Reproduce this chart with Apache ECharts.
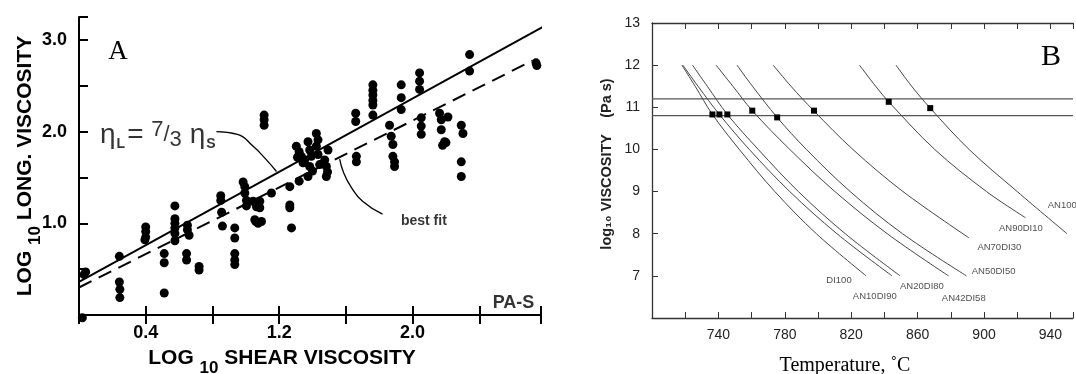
<!DOCTYPE html>
<html><head><meta charset="utf-8">
<script src="https://cdn.jsdelivr.net/npm/echarts@6/dist/echarts.min.js"></script>
<style>html,body{margin:0;padding:0;background:#fff}#c{width:1076px;height:374px}</style>
</head><body><div id="c"></div>
<script>
// ---------- Panel A data ----------
const aShear = [0.03,0.04,0.02, 0.242,0.242,0.245,0.245, 0.40,0.40,0.40,0.395, 0.511,0.511,0.511,
  0.575,0.575,0.575,0.575,0.575,0.575, 0.65,0.65,0.66,0.645,0.645, 0.72,0.72,
  0.85,0.85,0.855,0.86, 0.934,0.934,0.934,0.934,0.934,
  0.984,0.994,0.994,1.004,1.004, 1.044,1.064,1.084,1.084,1.054,1.074,1.094,1.06,
  1.11,1.11,1.11, 1.154, 1.264,1.264,1.264,1.274, 1.32,
  1.303,1.32,1.333,1.353,1.373,1.383,1.393,1.423,1.433,1.423,1.433,1.443,1.383,1.373,1.40,1.343,1.31,
  1.473,1.483,1.483,1.493,1.49, 1.659,1.659,1.663,1.663,
  1.762,1.762,1.762,1.762,1.762,1.762, 1.862,1.872,1.882,1.882,1.892,1.892,
  1.932,1.932,1.932, 2.042,2.042,2.042,2.052,2.052,2.052,
  2.162,2.172,2.172,2.192,2.212,2.18,2.2, 2.292,2.302,2.292,2.292, 2.342,2.342, 2.74,2.745];
const aLong = [0.44,0.47,-0.03, 0.64,0.36,0.28,0.19, 0.96,0.91,0.85,0.82, 0.67,0.57,0.24,
  1.19,1.05,1.0,0.95,0.89,0.81, 0.98,0.93,0.87,0.67,0.60, 0.53,0.49,
  1.30,1.25,1.12,0.97, 0.95,0.84,0.67,0.60,0.55,
  1.45,1.40,1.33,1.25,1.19, 1.24,1.18,1.24,1.17,1.04,1.0,1.02,1.02,
  2.18,2.13,2.07, 1.33, 1.40,1.20,1.17,0.95, 1.46,
  1.84,1.78,1.73,1.69,1.89,1.80,1.73,1.98,1.91,1.84,1.75,1.64,1.62,1.51,1.57,1.66,1.72,
  1.69,1.62,1.51,1.80,1.56, 2.20,2.11,1.73,1.67,
  2.51,2.45,2.40,2.34,2.29,2.18, 2.07,1.95,1.86,1.73,1.67,1.62,
  2.51,2.37,2.24, 2.64,2.55,2.46,2.15,2.06,1.97,
  2.20,2.13,2.02,1.89,2.16,1.85,1.88, 2.07,1.98,1.67,1.51, 2.84,2.66, 2.75,2.72];
const lineShear = [0, 2.8];
const ratioLineLong = [0.36, 3.16];      // eta_L = 7/3 eta_S
const bestFitShear = [0, 2.72];
const bestFitLong = [0.30, 2.775];
const etaArrowShear = [0.824, 0.95, 1.044, 1.12, 1.184];
const etaArrowLong = [2.0, 1.97, 1.84, 1.70, 1.565];
const fitArrowShear = [1.563, 1.585, 1.63, 1.70, 1.82];
const fitArrowLong = [1.70, 1.56, 1.40, 1.24, 1.10];
const aXTickLabels = [0.4, 1.2, 2.0];
const aYTickLabels = [1.0, 2.0, 3.0];

// ---------- Panel B data ----------
const curveNames = ['DI100','AN10DI90','AN20DI80','AN42DI58','AN50DI50','AN70DI30','AN90DI10','AN100'];
const curveT = [
  [718, 726, 736.4, 752.6, 774, 799, 829],
  [718.6, 727.7, 740.6, 758.6, 783, 811.4, 844.6],
  [724.4, 733.3, 745.4, 764, 788.2, 816.4, 849.5],
  [738.6, 748.7, 760.4, 783, 810.2, 841.7, 878.6],
  [751.2, 760.5, 775.4, 793, 819.4, 850.9, 889.4],
  [773, 783.7, 797.4, 821, 851.2, 891],
  [825, 834.7, 842.6, 870.3, 901.5, 925],
  [847, 856.4, 867.6, 891, 920, 950]
];
const curveV = [
  [12, 11.5, 10.83, 10, 9, 8, 7],
  [12, 11.5, 10.83, 10, 9, 8, 7],
  [12, 11.5, 10.83, 10, 9, 8, 7],
  [12, 11.5, 10.92, 10, 9, 8, 7],
  [12, 11.5, 10.76, 10, 9, 8, 7],
  [12, 11.5, 10.92, 10, 9, 7.9],
  [12, 11.5, 11.13, 10, 9, 8.38],
  [12, 11.5, 10.98, 10, 9, 8.0]
];
const squareT = [736.4, 740.6, 745.4, 760.4, 775.4, 797.6, 842.6, 867.6];
const squareV = [10.83, 10.83, 10.83, 10.92, 10.76, 10.92, 11.13, 10.98];
const refLevels = [11.2, 10.8];
const labelT = [805, 821, 849.4, 874.6, 892.6, 896, 909, 938.4];
const labelV = [6.9, 6.52, 6.75, 6.46, 7.1, 7.67, 8.12, 8.68];
const bXTickLabels = [740, 780, 820, 860, 900, 940];
const bYTickLabels = [7, 8, 9, 10, 11, 12, 13];
const bTempMin = 700, bTempMax = 953.6;   // visible temperature range (panel cropped at right)

// ---------- build ----------
const zip = (a, b) => a.map((v, i) => [v, b[i]]);
const near = (arr, v) => arr.some(t => Math.abs(t - v) < 1e-6);
const FONT = 'Liberation Sans';

const series = [];
// Panel A
series.push({type:'scatter', xAxisIndex:0, yAxisIndex:0, data: zip(aShear, aLong), symbolSize: 9,
  itemStyle:{color:'#000', opacity:1}, clip:false, z:3});
series.push({type:'line', xAxisIndex:0, yAxisIndex:0, data: zip(lineShear, ratioLineLong), symbol:'none',
  lineStyle:{color:'#000', width:2}});
series.push({type:'line', xAxisIndex:0, yAxisIndex:0, data: zip(bestFitShear, bestFitLong), symbol:'none',
  lineStyle:{color:'#000', width:2, type:[14,8]}});
series.push({type:'line', xAxisIndex:0, yAxisIndex:0, data: zip(etaArrowShear, etaArrowLong), symbol:'none', smooth:true,
  lineStyle:{color:'#000', width:1.3}});
series.push({type:'line', xAxisIndex:0, yAxisIndex:0, data: zip(fitArrowShear, fitArrowLong), symbol:'none', smooth:true,
  lineStyle:{color:'#000', width:1.3}});
// Panel A texts
series.push({type:'scatter', xAxisIndex:0, yAxisIndex:0, symbolSize:0, silent:true, clip:false,
  data:[
    {value:[0.126, 1.96], label:{formatter:'{e|η}{l|L}{e|= }{sp|7}{sl|/}{sb|3}{e| η}{l|S}'}},
    {value:[1.93, 1.02], label:{formatter:'{bf|best fit}'}},
    {value:[2.48, 0.13], label:{formatter:'{pa|PA-S}'}}
  ],
  label:{show:true, position:'right', distance:0, color:'#000', fontFamily:FONT,
    rich:{
      e:{fontSize:28, lineHeight:32, fontFamily:FONT, color:'#000'},
      l:{fontSize:14, fontWeight:'bold', lineHeight:15, verticalAlign:'bottom', fontFamily:FONT, color:'#000', padding:[0,2,0,1]},
      sp:{fontSize:22, lineHeight:22, verticalAlign:'top', fontFamily:FONT, color:'#000'},
      sl:{fontSize:22, lineHeight:32, fontFamily:FONT, color:'#000'},
      sb:{fontSize:22, lineHeight:22, verticalAlign:'bottom', fontFamily:FONT, color:'#000'},
      bf:{fontSize:14, fontWeight:'bold', fontFamily:FONT, color:'#000'},
      pa:{fontSize:18, fontWeight:'bold', fontFamily:FONT, color:'#000'}
    }}
});
// Panel B
refLevels.forEach(v => series.push({type:'line', xAxisIndex:2, yAxisIndex:2, data:[[bTempMin, v],[bTempMax, v]],
  symbol:'none', lineStyle:{color:'#555', width:1.2}}));
curveNames.forEach((n, i) => series.push({type:'line', name:n, xAxisIndex:2, yAxisIndex:2,
  data: zip(curveT[i], curveV[i]), symbol:'none', smooth:0.35, lineStyle:{color:'#444', width:1}}));
series.push({type:'scatter', xAxisIndex:2, yAxisIndex:2, data: zip(squareT, squareV), symbol:'rect', symbolSize:6,
  itemStyle:{color:'#000', opacity:1}, z:4});
series.push({type:'scatter', xAxisIndex:2, yAxisIndex:2, symbolSize:0, silent:true, clip:false,
  data: curveNames.map((n, i) => ({name:n, value:[labelT[i], labelV[i]]})),
  label:{show:true, position:'right', distance:0, formatter: p => p.name,
    fontSize:9.5, fontFamily:FONT, color:'#222'}});

const axA = {min:0, max:2.77, interval:0.4};
const ayA = {min:0, max:3.25, interval:0.5};
const lineA = {show:true, lineStyle:{color:'#000', width:2}};
const tickA = {show:true, inside:true, length:9, lineStyle:{color:'#000', width:2}};
const lineB = {show:true, lineStyle:{color:'#333', width:1.3}};
const tickB = {show:true, inside:true, length:6, lineStyle:{color:'#333', width:1}};

const option = {
  animation:false,
  backgroundColor:'#fff',
  grid:[
    {left:79, top:17, width:462, height:298, containLabel:false},
    {left:652, top:23, width:424, height:295, containLabel:false}
  ],
  xAxis:[
    Object.assign({type:'value', gridIndex:0, position:'bottom', axisLine:lineA, axisTick:tickA, splitLine:{show:false},
      axisLabel:{margin:9, fontSize:18, fontWeight:'bold', color:'#000', fontFamily:FONT,
        formatter: v => near(aXTickLabels, v) ? v.toFixed(1) : ''}}, axA),
    Object.assign({type:'value', gridIndex:0, position:'top', axisLine:lineA, axisTick:tickA, splitLine:{show:false},
      axisLabel:{show:false}}, axA),
    {type:'value', gridIndex:1, position:'bottom', min:bTempMin, max:bTempMax, interval:20, axisLine:lineB, axisTick:tickB,
      splitLine:{show:false}, axisLabel:{margin:10, fontSize:14, color:'#222', fontFamily:FONT,
        formatter: v => near(bXTickLabels, v) ? String(v) : ''}},
    {type:'value', gridIndex:1, position:'top', min:bTempMin, max:bTempMax, interval:20, axisLine:lineB, axisTick:tickB,
      splitLine:{show:false}, axisLabel:{show:false}}
  ],
  yAxis:[
    Object.assign({type:'value', gridIndex:0, position:'left', axisLine:lineA, axisTick:tickA, splitLine:{show:false},
      axisLabel:{margin:12, fontSize:18, fontWeight:'bold', color:'#000', fontFamily:FONT,
        formatter: v => near(aYTickLabels, v) ? v.toFixed(1) : ''}}, ayA),
    Object.assign({type:'value', gridIndex:0, position:'right', show:false}, ayA),
    {type:'value', gridIndex:1, position:'left', min:6, max:13, interval:1, axisLine:lineB, axisTick:tickB,
      splitLine:{show:false}, axisLabel:{margin:12, fontSize:14, color:'#222', fontFamily:FONT,
        formatter: v => near(bYTickLabels, v) ? String(v) : ''}},
    {type:'value', gridIndex:1, position:'right', min:6, max:13, interval:1, show:false}
  ],
  graphic:[
    {type:'text', x:118, y:52, style:{text:'A', fontSize:27, fontFamily:'Liberation Serif', fill:'#000', align:'center', verticalAlign:'middle'}},
    {type:'text', x:1051, y:57, style:{text:'B', fontSize:30, fontFamily:'Liberation Serif', fill:'#000', align:'center', verticalAlign:'middle'}},
    {type:'text', x:282, y:368, style:{text:'{a|LOG }{s|10}{a| SHEAR VISCOSITY}', align:'center', verticalAlign:'middle',
      rich:{a:{fontSize:21, fontWeight:'bold', fontFamily:FONT, fill:'#000', lineHeight:20, verticalAlign:'top'},
            s:{fontSize:17, fontWeight:'bold', fontFamily:FONT, fill:'#000', lineHeight:40, verticalAlign:'middle'}}}},
    {type:'text', x:35, y:166, rotation:Math.PI/2, style:{text:'{a|LOG }{s|10}{a| LONG. VISCOSITY}', align:'center', verticalAlign:'middle',
      rich:{a:{fontSize:21, fontWeight:'bold', fontFamily:FONT, fill:'#000', lineHeight:20, verticalAlign:'top'},
            s:{fontSize:17, fontWeight:'bold', fontFamily:FONT, fill:'#000', lineHeight:40, verticalAlign:'middle'}}}},
    {type:'text', x:607, y:164, rotation:Math.PI/2, style:{text:'log₁₀ VISCOSITY    (Pa s)', fontSize:14.5, fontWeight:'bold',
      fontFamily:FONT, fill:'#222', align:'center', verticalAlign:'middle'}},
    {type:'text', x:845, y:366, style:{text:'Temperature, ˚C', fontSize:20, fontFamily:'Liberation Serif', fill:'#000',
      align:'center', verticalAlign:'middle'}}
  ],
  series: series
};
const chart = echarts.init(document.getElementById('c'));
chart.setOption(option);
</script></body></html>
